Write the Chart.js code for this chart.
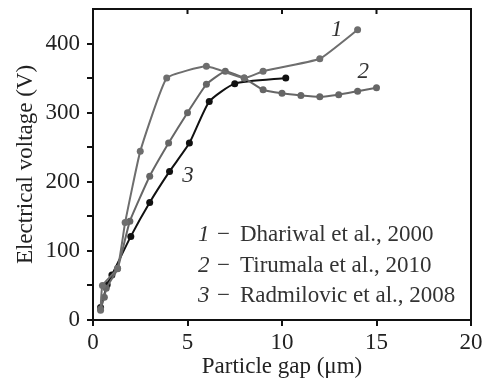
<!DOCTYPE html>
<html>
<head>
<meta charset="utf-8">
<script src="https://cdn.jsdelivr.net/npm/chart.js@4/dist/chart.umd.min.js"></script>
<style>
  html, body { margin: 0; padding: 0; background: #fff; }
  #wrap { width: 483px; height: 381px; }
</style>
</head>
<body>
<div id="wrap"><canvas id="myChart" width="483" height="381"></canvas></div>
<script>
var seriesNames = ["Dhariwal et al., 2000", "Tirumala et al., 2010", "Radmilovic et al., 2008"];
var seriesNums = ["1", "2", "3"];

var gap1 = [0.4, 0.5, 1.3, 1.7, 2.5, 3.9, 6.0, 8.0, 9.0, 12.0, 14.0];
var volt1 = [14, 50, 75, 141, 244, 350, 367, 350, 360, 378, 420];

var gap2 = [0.4, 0.6, 0.7, 1.3, 1.95, 3.0, 4.0, 5.0, 6.0, 7.0, 8.0, 9.0, 10.0, 11.0, 12.0, 13.0, 14.0, 15.0];
var volt2 = [16, 33, 46, 74, 143, 208, 256, 300, 341, 360, 350, 333, 328, 325, 323, 326, 331, 336];

var gap3 = [0.4, 0.75, 1.0, 2.0, 3.0, 4.05, 5.1, 6.15, 7.5, 10.2];
var volt3 = [18, 51, 65, 121, 170, 215, 256, 316, 342, 350];

var xTicks = [0, 5, 10, 15, 20];
var yTicks = [0, 100, 200, 300, 400];

var serif = "'Liberation Serif', 'Times New Roman', 'DejaVu Serif', serif";
var textColor = "#222";

function toPoints(xs, ys) {
  var pts = [];
  for (var i = 0; i < xs.length; i++) pts.push({ x: xs[i], y: ys[i] });
  return pts;
}

// frame, inward top ticks, curve numbers and the text key
var extras = {
  id: "extras",
  afterDraw: function (chart) {
    var ctx = chart.ctx;
    var a = chart.chartArea;
    var xs = chart.scales.x;
    var ys = chart.scales.y;
    ctx.save();
    ctx.strokeStyle = "#111";
    ctx.lineWidth = 2;
    ctx.beginPath();
    ctx.moveTo(a.left - 1, a.top);
    ctx.lineTo(a.right, a.top);
    ctx.lineTo(a.right, a.bottom + 1);
    ctx.stroke();
    ctx.beginPath();
    for (var i = 1; i < xTicks.length - 1; i++) {
      var px = xs.getPixelForValue(xTicks[i]);
      ctx.moveTo(px, a.top);
      ctx.lineTo(px, a.top + 5);
    }
    ctx.stroke();

    ctx.fillStyle = "#333";
    ctx.font = "italic 23px " + serif;
    ctx.textAlign = "center";
    ctx.textBaseline = "middle";
    var tags = [[12.9, 419], [14.3, 359], [5.03, 209]];
    for (var j = 0; j < tags.length; j++) {
      ctx.fillText(seriesNums[j], xs.getPixelForValue(tags[j][0]), ys.getPixelForValue(tags[j][1]));
    }

    ctx.textAlign = "left";
    ctx.textBaseline = "alphabetic";
    var rows = [241, 272, 302];
    for (var k = 0; k < seriesNames.length; k++) {
      ctx.font = "italic 23px " + serif;
      ctx.fillText(seriesNums[k], 198, rows[k]);
      ctx.font = "23px " + serif;
      ctx.fillText("\u2212", 217, rows[k]);
      ctx.fillText(seriesNames[k], 240, rows[k]);
    }
    ctx.restore();
  }
};

function renderChart() {
  var ctx = document.getElementById("myChart").getContext("2d");
  var ds = function (xs, ys, color, tension) {
    return {
      data: toPoints(xs, ys),
      borderColor: color,
      backgroundColor: color,
      borderWidth: 2,
      pointRadius: 3.5,
      pointBorderWidth: 0,
      tension: tension
    };
  };
  new Chart(ctx, {
    type: "line",
    data: {
      datasets: [
        ds(gap1, volt1, "#6e6e6e", 0.12),
        ds(gap2, volt2, "#666666", 0.12),
        ds(gap3, volt3, "#111111", 0.18)
      ]
    },
    options: {
      responsive: false,
      animation: false,
      layout: { padding: { top: 9, right: 12, left: 0, bottom: 0 } },
      plugins: { legend: { display: false }, tooltip: { enabled: false } },
      scales: {
        x: {
          type: "linear",
          min: 0,
          max: 20,
          afterFit: function (s) {
            s.height = 61;
            s.paddingLeft = 0;
            s.paddingRight = 0;
          },
          border: { display: true, color: "#111", width: 2 },
          grid: { drawOnChartArea: false, drawTicks: true, tickLength: 6, color: "#111", lineWidth: 2 },
          ticks: {
            stepSize: 5,
            padding: 3,
            color: textColor,
            font: { family: serif, size: 23 },
            maxRotation: 0
          },
          title: {
            display: true,
            text: "Particle gap (\u03bcm)",
            color: textColor,
            font: { family: serif, size: 23 },
            padding: { top: 0, bottom: 0 }
          }
        },
        y: {
          type: "linear",
          min: 0,
          max: 450,
          afterFit: function (s) {
            s.width = 93;
            s.paddingTop = 0;
            s.paddingBottom = 0;
          },
          border: { display: true, color: "#111", width: 2 },
          grid: {
            drawOnChartArea: false,
            drawTicks: true,
            tickLength: 6,
            lineWidth: 2,
            color: function (c) { return c.tick && c.tick.value >= 450 ? "rgba(0,0,0,0)" : "#111"; }
          },
          ticks: {
            stepSize: 50,
            autoSkip: false,
            padding: 7,
            color: textColor,
            font: { family: serif, size: 23 },
            callback: function (v) { return yTicks.indexOf(Math.round(v)) >= 0 ? String(Math.round(v)) : ""; }
          },
          title: {
            display: true,
            text: "Electrical voltage (V)",
            color: textColor,
            font: { family: serif, size: 23 },
            padding: { top: 12, bottom: 0 }
          }
        }
      }
    },
    plugins: [extras]
  });
}

renderChart();
</script>
</body>
</html>
